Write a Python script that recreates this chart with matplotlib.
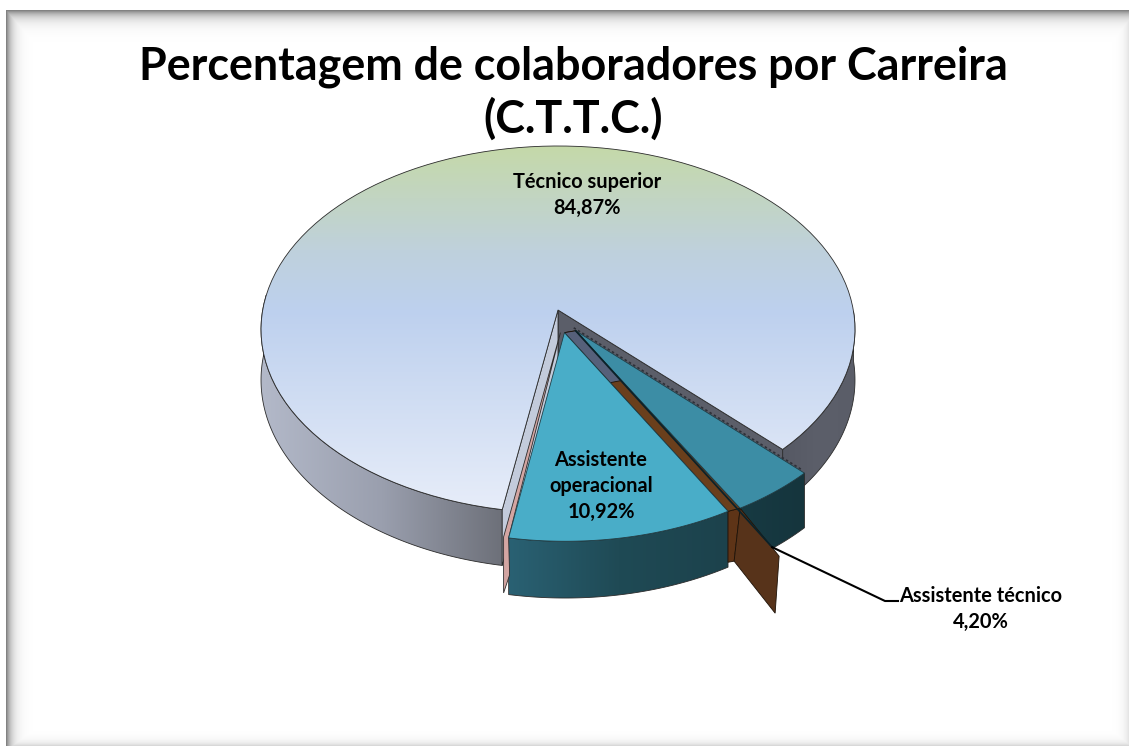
#!/usr/bin/env python3
# -*- coding: utf-8 -*-
import numpy as np
import matplotlib
matplotlib.use('Agg')
import matplotlib.pyplot as plt
from matplotlib.colors import LinearSegmentedColormap
from matplotlib.patches import Polygon

# data
categories = ['Técnico superior', 'Assistente operacional', 'Assistente técnico']
shares = [84.87, 10.92, 4.20]
share_labels = ['84,87%', '10,92%', '4,20%']
explode = [0.0, 0.125, 0.115]
title = 'Percentagem de colaboradores por Carreira\n(C.T.T.C.)'

# pie geometry in pixels, seen in perspective
W, H = 1129, 746
CX, CY = 558, 310
RX, RY = 295.3, 181.4
K = 0.106
DEPTH = 50
START_ANGLE = -45.3
TEC_NUDGE = np.array([-3, 4])

plt.rcParams['font.family'] = ['Lato', 'DejaVu Sans']

fig = plt.figure(figsize=(W / 100, H / 100), dpi=100)
ax = fig.add_axes([0, 0, 1, 1])
ax.set_xlim(0, W)
ax.set_ylim(H, 0)
ax.axis('off')
ax.set_autoscale_on(False)

# painter's order: images and patches share one running zorder
layer = [1]


def next_layer():
    layer[0] += 1
    return layer[0]


def project(u, v, drop=0.0):
    # u, v on the unit pie plane, v pointing away from the viewer
    s = 1.0 / (1.0 + K * v)
    return np.column_stack([CX + RX * u * s, CY - RY * v * s + drop * s])


def arc(a0, a1, mid, e, drop=0.0, n=120):
    t = np.radians(np.linspace(a0, a1, n))
    m = np.radians(mid)
    return project(np.cos(t) + e * np.cos(m), np.sin(t) + e * np.sin(m), drop)


def gradient(pts, stops, horizontal=False, edge='#2b2b2b', lw=0.6):
    # fill polygon with a linear colour ramp, clipped to its outline
    cmap = LinearSegmentedColormap.from_list('g', stops)
    x0, y0 = pts.min(axis=0)
    x1, y1 = pts.max(axis=0)
    ramp = np.linspace(0, 1, 256)
    ramp = ramp[None, :] if horizontal else ramp[:, None]
    z = next_layer()
    im = ax.imshow(ramp, cmap=cmap, extent=(x0, x1, y1, y0), aspect='auto',
                   interpolation='bilinear', origin='upper', zorder=z)
    patch = Polygon(pts, closed=True, facecolor='none', edgecolor=edge, linewidth=lw, zorder=z + 0.5)
    ax.add_patch(patch)
    im.set_clip_path(patch)


def flat(pts, color, edge='#2b2b2b', lw=0.6):
    ax.add_patch(Polygon(np.array(pts), closed=True, facecolor=color, edgecolor=edge,
                         linewidth=lw, zorder=next_layer()))


def wall(a0, a1, mid, e, stops, nudge=(0, 0)):
    top = arc(a0, a1, mid, e) + nudge
    bottom = arc(a0, a1, mid, e, DEPTH) + nudge
    gradient(np.vstack([top, bottom[::-1]]), stops, horizontal=True)


# frame: pale page with a soft grey inner shadow
yy, xx = np.mgrid[0:H, 0:W]
dark = np.maximum.reduce([
    125 * np.exp(-np.clip(yy - 10, 0, None) / 6.5),
    125 * np.exp(-np.clip(xx - 6, 0, None) / 5.5),
    32 * np.exp(-(W - xx) / 5.0),
    50 * np.exp(-(H - yy) / 4.0),
])
page = 255 - dark
page[(xx < 6) | (yy < 10)] = 255
ax.imshow(page, cmap='gray', vmin=0, vmax=255, extent=(0, W, H, 0), aspect='auto', zorder=0)

# slice angles, counter-clockwise from the right edge of the big slice
sweep = np.array(shares) / np.sum(shares) * 360
a_start = START_ANGLE + np.concatenate([[0], np.cumsum(sweep)[:-1]])
a_end = a_start + sweep
a_mid = (a_start + a_end) / 2

# big slice
big_rim = arc(a_start[0], a_end[0], a_mid[0], explode[0])
apex = project(np.array([0.0]), np.array([0.0]))[0]
apex_low = project(np.array([0.0]), np.array([0.0]), DEPTH)[0]
wall(a_end[0] - 85, a_end[0], a_mid[0], explode[0], ['#b3b9c9', '#9a9fae', '#6d7079'])
wall(a_start[0], a_start[0] + 45, a_mid[0], explode[0], ['#565964', '#5c5f6a', '#5a5d68'])
flat([apex, big_rim[0], big_rim[0] + [0, 56], apex_low], '#5b5e69')
flat([apex, big_rim[-1], big_rim[-1] + [0, 56], apex_low], '#c3cbdb')
gradient(np.vstack([[apex], big_rim]),
         [(0, '#c5d9a9'), (0.285, '#bfd1dc'), (0.45, '#bdd0ee'), (1, '#e7edf9')])

# small slices
op_rim = arc(a_start[1], a_end[1], a_mid[1], explode[1])
op_low = arc(a_start[1], a_end[1], a_mid[1], explode[1], DEPTH)
m = np.radians(a_mid[1])
op_apex = project(np.array([explode[1] * np.cos(m)]), np.array([explode[1] * np.sin(m)]))[0]
m = np.radians(a_mid[2])
tec_apex = project(np.array([explode[2] * np.cos(m)]), np.array([explode[2] * np.sin(m)]))[0] + TEC_NUDGE
tec_rim = arc(a_start[2], a_end[2], a_mid[2], explode[2]) + TEC_NUDGE

wall(a_start[2], a_end[2], a_mid[2], explode[2], ['#173a43', '#15353d'], TEC_NUDGE)
gradient(np.vstack([op_rim, op_low[::-1]]),
         ['#2a6173', '#1f4a55', '#1c424c'], horizontal=True)

# cut faces of the exploded slices
o, t = op_rim[0], op_rim[-1]
tl, tr = tec_rim[0], tec_rim[-1]
flat([op_apex + [-4, 0], o + [-5, -1], o + [-5, 55], o + [1, 37], o], '#d3a5a2')
flat([t, tl, tl + [-6, 53], t + [0, 51]], '#5e3417', edge='#1d1208')
flat([tl, tl + [39, 48], tl + [35, 105], tl + [-6, 53]], '#57331a', edge='#1d1208')
flat([op_apex, t, tl, tec_apex], '#6a3f1c', edge='#1d1208')
mid_op = op_apex + 0.28 * (t - op_apex)
mid_tec = tec_apex + 0.28 * (tl - tec_apex)
flat([op_apex, mid_op, mid_tec, tec_apex], '#56607a', edge='#1d1208')

# tops
flat(np.vstack([[op_apex], op_rim]), '#49adc8', edge='#1f3f48')
flat(np.vstack([[tec_apex], tec_rim]), '#3c8da5', edge='#1f3f48')
ax.plot([tec_apex[0], tl[0] + 32], [tec_apex[1], tl[1] + 39], color='#0c2229', lw=1.3, zorder=next_layer())
ax.plot([tec_apex[0] - 2, tr[0] - 2], [tec_apex[1] - 3, tr[1] - 3],
        color='#2e3038', lw=1.2, ls=(0, (1.5, 1.5)), zorder=next_layer())

# labels
z_text = next_layer()
ax.text(573, 93, title, ha='center', va='center', fontsize=32.3, fontweight='bold',
        color='black', linespacing=1.26, zorder=z_text)
ax.text(587, 195, categories[0] + '\n' + share_labels[0], ha='center', va='center',
        fontsize=14.4, fontweight='bold', color='black', linespacing=1.38, zorder=z_text)
ax.text(601, 486, 'Assistente\noperacional\n' + share_labels[1], ha='center', va='center',
        fontsize=14.4, fontweight='bold', color='black', linespacing=1.38, zorder=z_text)
ax.text(981, 609, categories[2] + '\n' + share_labels[2], ha='center', va='center',
        fontsize=14.4, fontweight='bold', color='black', linespacing=1.38, zorder=z_text)
ax.plot([tl[0] + 32, 885, 898], [tl[1] + 39, 601, 601], color='black', lw=1.5, zorder=z_text)

fig.savefig('out.png', dpi=100)
